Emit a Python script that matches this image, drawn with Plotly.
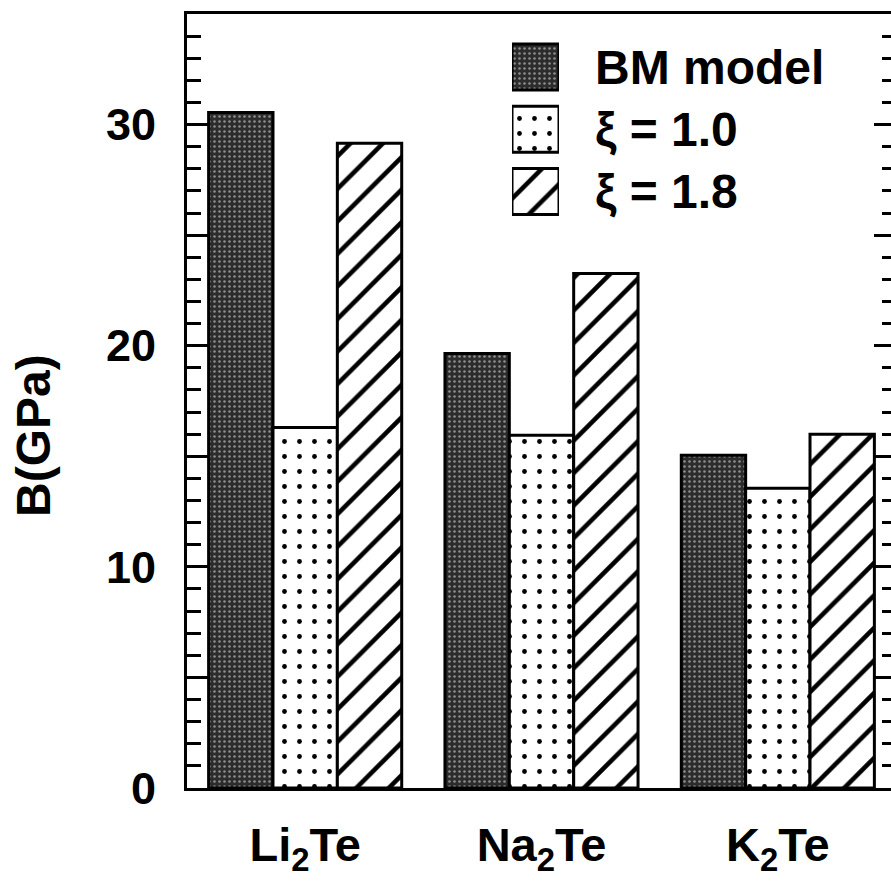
import plotly.graph_objects as go

compounds = ["Li<sub>2</sub>Te", "Na<sub>2</sub>Te", "K<sub>2</sub>Te"]
series_names = ["BM model", "ξ = 1.0", "ξ = 1.8"]
bm_model = [30.55, 19.65, 15.05]
xi_10 = [16.3, 15.95, 13.55]
xi_18 = [29.15, 23.27, 16.0]
series_values = [bm_model, xi_10, xi_18]

y_tickvals = [0, 5, 10, 15, 20, 25, 30, 35]
y_ticktext = ["0", "", "10", "", "20", "", "30", ""]

FONT = "Liberation Sans, Arial, Helvetica, sans-serif"

patterns = [
    dict(shape=".", bgcolor="#2c2c2c", fgcolor="#8f8f8f", size=5, solidity=0.2, fillmode="replace"),
    dict(shape=".", bgcolor="white", fgcolor="black", size=15, solidity=0.08, fillmode="replace"),
    dict(shape="/", bgcolor="white", fgcolor="black", size=23, solidity=0.2, fillmode="replace"),
]

fig = go.Figure()
for name, vals, pat in zip(series_names, series_values, patterns):
    fig.add_trace(go.Bar(
        x=compounds, y=vals, name=name,
        marker=dict(color="white", pattern=pat, line=dict(color="black", width=3)),
        showlegend=False,
    ))

# custom legend drawn as bars on an auxiliary axis
for name, pat in zip(series_names, patterns):
    fig.add_trace(go.Bar(
        x=[1], y=[name], orientation="h", width=0.74,
        xaxis="x2", yaxis="y2", showlegend=False,
        marker=dict(color="white", pattern=pat, line=dict(color="black", width=3)),
    ))

W, H = 900, 882
ML, MR, MT, MB = 187, 4, 14, 94
PW = W - ML - MR
PH = H - MT - MB

def px_x(p):
    return (p - ML) / PW

def px_y(p):
    return (H - MB - p) / PH

fig.update_layout(
    width=W, height=H, autosize=False,
    margin=dict(l=ML, r=MR, t=MT, b=MB, autoexpand=False),
    paper_bgcolor="white", plot_bgcolor="white",
    barmode="group", bargap=0.183, bargroupgap=0,
    font=dict(family=FONT, color="black", size=46, weight="bold"),
    xaxis=dict(
        type="category", range=[-0.5, 2.5], automargin=False,
        showline=True, linecolor="black", linewidth=3, mirror=True,
        ticks="", showgrid=False, zeroline=False,
        tickfont=dict(size=47, weight="bold"), ticklabelstandoff=14,
    ),
    yaxis=dict(
        range=[0, 35], automargin=False,
        showline=True, linecolor="black", linewidth=3, mirror="allticks",
        tickmode="array", tickvals=y_tickvals, ticktext=y_ticktext,
        ticks="inside", ticklen=22, tickwidth=3, tickcolor="black",
        minor=dict(dtick=1, ticks="inside", ticklen=14, tickwidth=2.5, tickcolor="black", showgrid=False),
        showgrid=False, zeroline=False,
        tickfont=dict(size=45, weight="bold"), ticklabelstandoff=19,
    ),
    xaxis2=dict(
        domain=[px_x(512), px_x(559)], range=[0, 1], anchor="y2",
        visible=False, fixedrange=True, automargin=False,
    ),
    yaxis2=dict(
        domain=[px_y(222.5), px_y(36)], anchor="x2", type="category",
        categoryorder="array", categoryarray=series_names, automargin=False,
        range=[2.5, -0.5], side="right",
        showline=False, ticks="", showgrid=False, zeroline=False,
        tickfont=dict(size=48, weight="bold"), ticklabelstandoff=35,
    ),
    annotations=[dict(
        text="B(GPa)", xref="paper", yref="paper",
        x=px_x(34), y=px_y(436), showarrow=False, textangle=-90,
        font=dict(size=48, weight="bold"), xanchor="center", yanchor="middle",
    )],
)

fig.write_html("out.html")
